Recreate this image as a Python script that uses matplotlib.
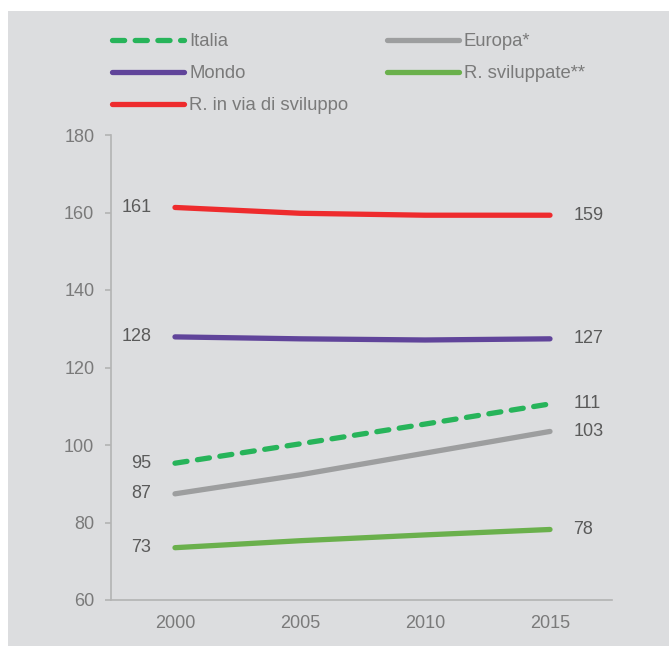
import matplotlib.pyplot as plt
from matplotlib.patches import Rectangle

plt.rcParams['font.family'] = ['Liberation Sans', 'DejaVu Sans']

years = [2000, 2005, 2010, 2015]
italia = [95.3, 100.3, 105.4, 110.6]
europa = [87.4, 92.3, 97.9, 103.5]
mondo = [127.9, 127.4, 127.1, 127.4]
sviluppate = [73.5, 75.3, 76.8, 78.2]
in_via = [161.3, 159.8, 159.3, 159.3]

start_labels = ['95', '87', '128', '73', '161']
end_labels = ['111', '103', '127', '78', '159']

series = [
    ('Italia', italia, '#27b45a', 'dashed'),
    ('Europa*', europa, '#9d9e9f', 'solid'),
    ('Mondo', mondo, '#60449a', 'solid'),
    ('R. sviluppate**', sviluppate, '#6ab04c', 'solid'),
    ('R. in via di sviluppo', in_via, '#ee2b2d', 'solid'),
]

bg = '#dcdddf'
text_col = '#5a5a5a'
tick_col = '#7a7a7a'
fs = 13

fig = plt.figure(figsize=(6.69, 6.46), dpi=100, facecolor='white')
fig.patches.append(Rectangle((8 / 669, 0), 1, (646 - 11) / 646,
                             transform=fig.transFigure, facecolor=bg,
                             edgecolor='none', zorder=-10))

ax = fig.add_axes([111 / 669, 46 / 646, (612 - 111) / 669, (600 - 135) / 646])
ax.set_facecolor(bg)

handles = {}
for i, (name, vals, col, style) in enumerate(series):
    if style == 'dashed':
        ln, = ax.plot(years, vals, color=col, lw=3.8, dashes=(2.3, 2.0),
                      dash_capstyle='round', label=name)
    else:
        ln, = ax.plot(years, vals, color=col, lw=3.8, solid_capstyle='round',
                      label=name)
    handles[name] = ln
    ax.annotate(start_labels[i], (years[0], vals[0]), xytext=(-17, 0),
                textcoords='offset points', ha='right', va='center',
                fontsize=fs, color=text_col)
    ax.annotate(end_labels[i], (years[-1], vals[-1]), xytext=(17, 0),
                textcoords='offset points', ha='left', va='center',
                fontsize=fs, color=text_col)

ax.set_xlim(1997.44, 2017.48)
ax.set_ylim(60, 180)
ax.set_xticks(years)
ax.set_yticks(range(60, 181, 20))
for s in ['top', 'right']:
    ax.spines[s].set_visible(False)
for s in ['left', 'bottom']:
    ax.spines[s].set_color('#b3b3b3')
    ax.spines[s].set_linewidth(1.2)
ax.tick_params(axis='y', length=4, color='#b3b3b3', width=1.2,
               labelsize=fs, labelcolor=tick_col, pad=8)
ax.tick_params(axis='x', length=0, labelsize=fs, labelcolor=tick_col, pad=11)

order = ['Italia', 'Mondo', 'R. in via di sviluppo', 'Europa*', 'R. sviluppate**']
leg = fig.legend([handles[n] for n in order], order, ncol=2, frameon=False,
                 loc='upper left', bbox_to_anchor=(112 / 669, 1 - 33 / 646),
                 fontsize=13.3, handlelength=3.9, handletextpad=0.27,
                 columnspacing=2.1, labelspacing=0.82, borderpad=0,
                 borderaxespad=0)
for t in leg.get_texts():
    t.set_color(tick_col)

fig.savefig('out.png', dpi=100, facecolor='white')
